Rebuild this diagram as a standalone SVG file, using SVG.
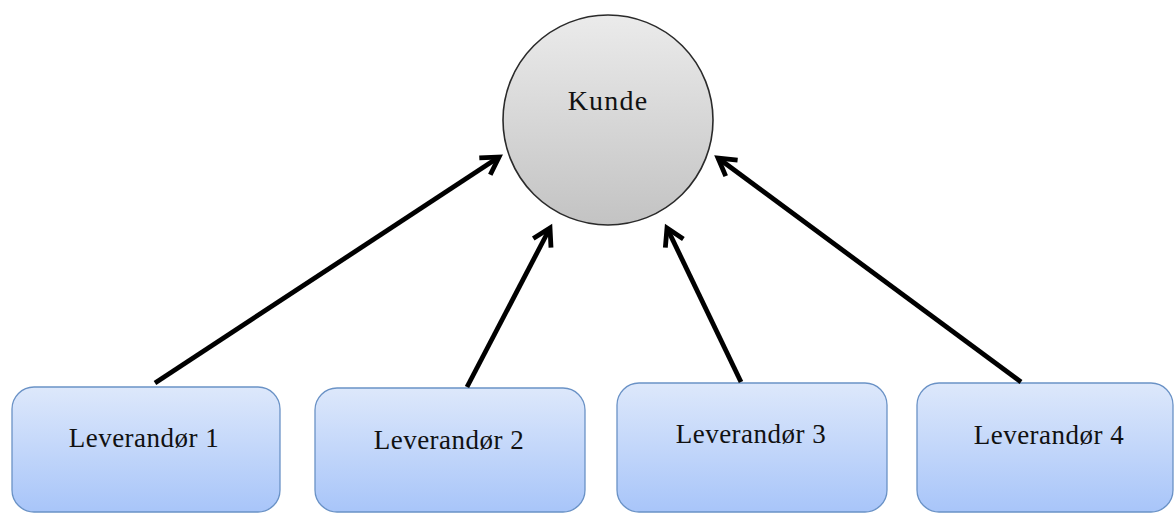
<svg xmlns="http://www.w3.org/2000/svg" width="1175" height="514" viewBox="0 0 1175 514">
  <defs>
    <linearGradient id="boxGrad" x1="0" y1="0" x2="0" y2="1">
      <stop offset="0" stop-color="#dde8fb"/>
      <stop offset="1" stop-color="#a8c5f9"/>
    </linearGradient>
    <linearGradient id="circGrad" x1="0" y1="0" x2="0" y2="1">
      <stop offset="0" stop-color="#ebebeb"/>
      <stop offset="1" stop-color="#c3c3c3"/>
    </linearGradient>
    <marker id="arrow" markerUnits="userSpaceOnUse" viewBox="-26 -16 32 32" markerWidth="32" markerHeight="32" refX="0" refY="0" orient="auto">
      <path d="M -17 -10 L 0 0 L -17 10" fill="none" stroke="#000" stroke-width="4.8" stroke-linejoin="miter" stroke-linecap="butt"/>
    </marker>
    <style>
      .box { fill: url(#boxGrad); stroke: #6a92c6; stroke-width: 1.3; }
      .lbl { font-family: "Liberation Serif", "Times New Roman", serif; font-size: 27px; letter-spacing: 0.5px; fill: #111; text-anchor: middle; }
      .conn { stroke: #000; stroke-width: 4.8; fill: none; marker-end: url(#arrow); }
    </style>
  </defs>
  <rect width="1175" height="514" fill="#fff"/>

  <g id="kunde">
    <circle cx="608" cy="120" r="105" fill="url(#circGrad)" stroke="#2a2a2a" stroke-width="1.6"/>
    <text class="lbl" x="608" y="110" style="font-size:28px;letter-spacing:1.2px">Kunde</text>
  </g>

  <g id="leverandor1">
    <rect class="box" x="12" y="387" width="268" height="125" rx="22" ry="22"/>
    <text class="lbl" x="144" y="447">Leverandør 1</text>
  </g>
  <g id="leverandor2">
    <rect class="box" x="315" y="388" width="270" height="124" rx="22" ry="22"/>
    <text class="lbl" x="449" y="449">Leverandør 2</text>
  </g>
  <g id="leverandor3">
    <rect class="box" x="617" y="383" width="270" height="129" rx="22" ry="22"/>
    <text class="lbl" x="751" y="443">Leverandør 3</text>
  </g>
  <g id="leverandor4">
    <rect class="box" x="917" y="383" width="256" height="129" rx="22" ry="22"/>
    <text class="lbl" x="1049" y="444">Leverandør 4</text>
  </g>

  <g id="connectors">
    <line class="conn" x1="155" y1="383" x2="499" y2="157"/>
    <line class="conn" x1="467" y1="387" x2="550" y2="228"/>
    <line class="conn" x1="741" y1="382" x2="667" y2="228"/>
    <line class="conn" x1="1021" y1="382" x2="718" y2="158"/>
  </g>
</svg>
